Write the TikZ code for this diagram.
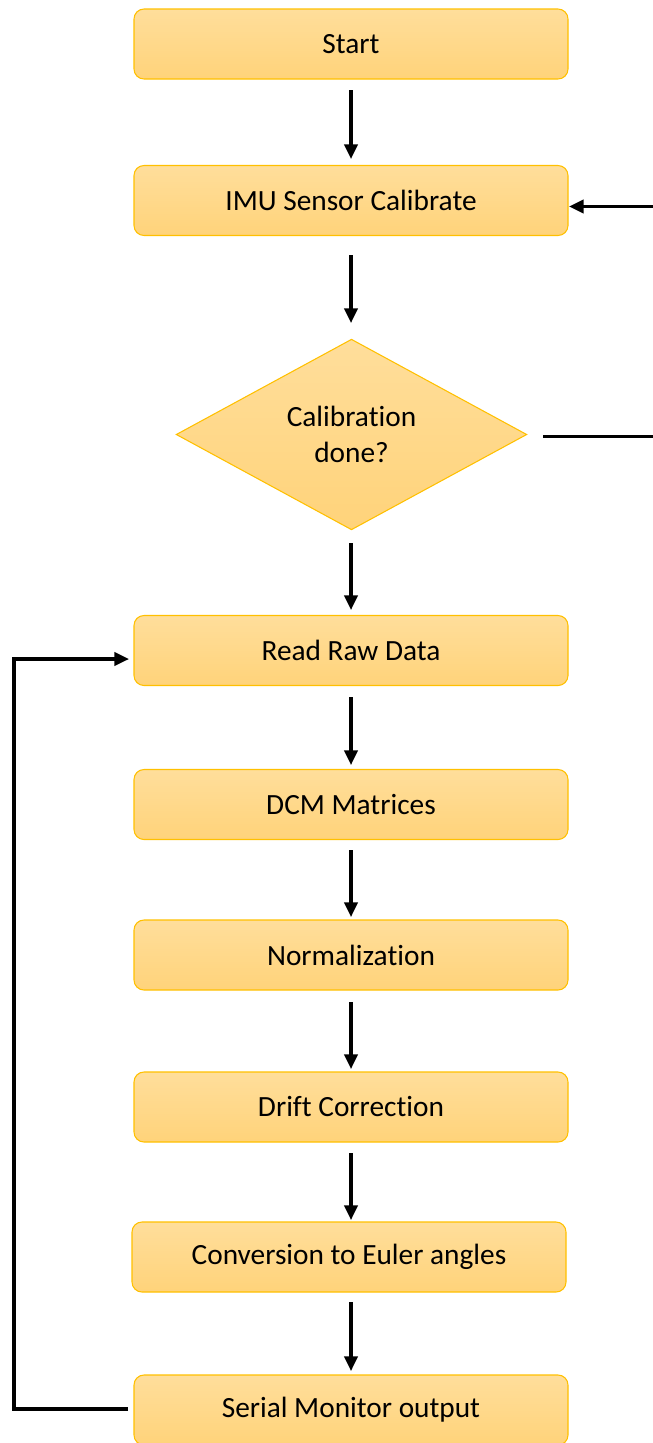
\documentclass[tikz,border=0pt]{standalone}
\usepackage{fontspec}
\setmainfont[Ligatures=NoCommon]{Carlito}
\usetikzlibrary{shapes.geometric,arrows.meta}
\definecolor{boxtop}{RGB}{255,222,155}
\definecolor{boxbot}{RGB}{255,211,122}
\definecolor{boxline}{RGB}{255,192,0}
\tikzset{
  px/.style={x=0.75pt,y=-0.75pt},
  stepbox/.style={draw=boxline, line width=0.8pt, rounded corners=7.5pt, top color=boxtop, bottom color=boxbot,
    minimum width=325.5pt, minimum height=52.5pt, inner sep=0pt, font=\fontsize{22}{26}\selectfont, align=center},
  decide/.style={diamond, draw=boxline, line width=0.8pt, top color=boxtop, bottom color=boxbot,
    minimum width=263pt, minimum height=143pt, inner sep=0pt, font=\fontsize{22}{27}\selectfont, align=center},
  flow/.style={line width=2.3pt, -{Triangle[length=11pt,width=10pt]}},
  plain/.style={line width=2.3pt}
}
\begin{document}
\begin{tikzpicture}[px]
\useasboundingbox (0,0) rectangle (653,1443);
\node[stepbox] (start) at (351,44) {Start};
\node[stepbox] (imu) at (351,200.5) {IMU Sensor Calibrate};
\node[decide] (cal) at (351.5,434.5) {Calibration\\done?};
\node[stepbox] (read) at (351,650.5) {Read Raw Data};
\node[stepbox] (dcm) at (351,804.5) {DCM Matrices};
\node[stepbox] (norm) at (351,955) {Normalization};
\node[stepbox] (drift) at (351,1107) {Drift Correction};
\node[stepbox] (conv) at (349,1257) {Conversion to Euler angles};
\node[stepbox] (ser) at (351,1410) {Serial Monitor output};

\coordinate (a1) at (351,90);  \coordinate (b1) at (351,159);
\coordinate (a2) at (351,255); \coordinate (b2) at (351,323);
\coordinate (a3) at (351,543); \coordinate (b3) at (351,610);
\coordinate (a4) at (351,697); \coordinate (b4) at (351,765);
\coordinate (a5) at (351,850); \coordinate (b5) at (351,917);
\coordinate (a6) at (351,1002);\coordinate (b6) at (351,1069);
\coordinate (a7) at (351,1153);\coordinate (b7) at (351,1220);
\coordinate (a8) at (351,1302);\coordinate (b8) at (351,1371);
\draw[flow] (a1) -- (b1);
\draw[flow] (a2) -- (b2);
\draw[flow] (a3) -- (b3);
\draw[flow] (a4) -- (b4);
\draw[flow] (a5) -- (b5);
\draw[flow] (a6) -- (b6);
\draw[flow] (a7) -- (b7);
\draw[flow] (a8) -- (b8);

% right loop (vertical part lies outside the page)
\coordinate (r1) at (543,436.5);
\coordinate (r2) at (700,436.5);
\coordinate (r3) at (700,206.5);
\coordinate (r4) at (569,206.5);
\draw[flow] (r1) -- (r2) -- (r3) -- (r4);

% left loop
\coordinate (l1) at (128,1409);
\coordinate (l2) at (14,1409);
\coordinate (l3) at (14,659);
\coordinate (l4) at (129,659);
\draw[flow] (l1) -- (l2) -- (l3) -- (l4);
\end{tikzpicture}
\end{document}
